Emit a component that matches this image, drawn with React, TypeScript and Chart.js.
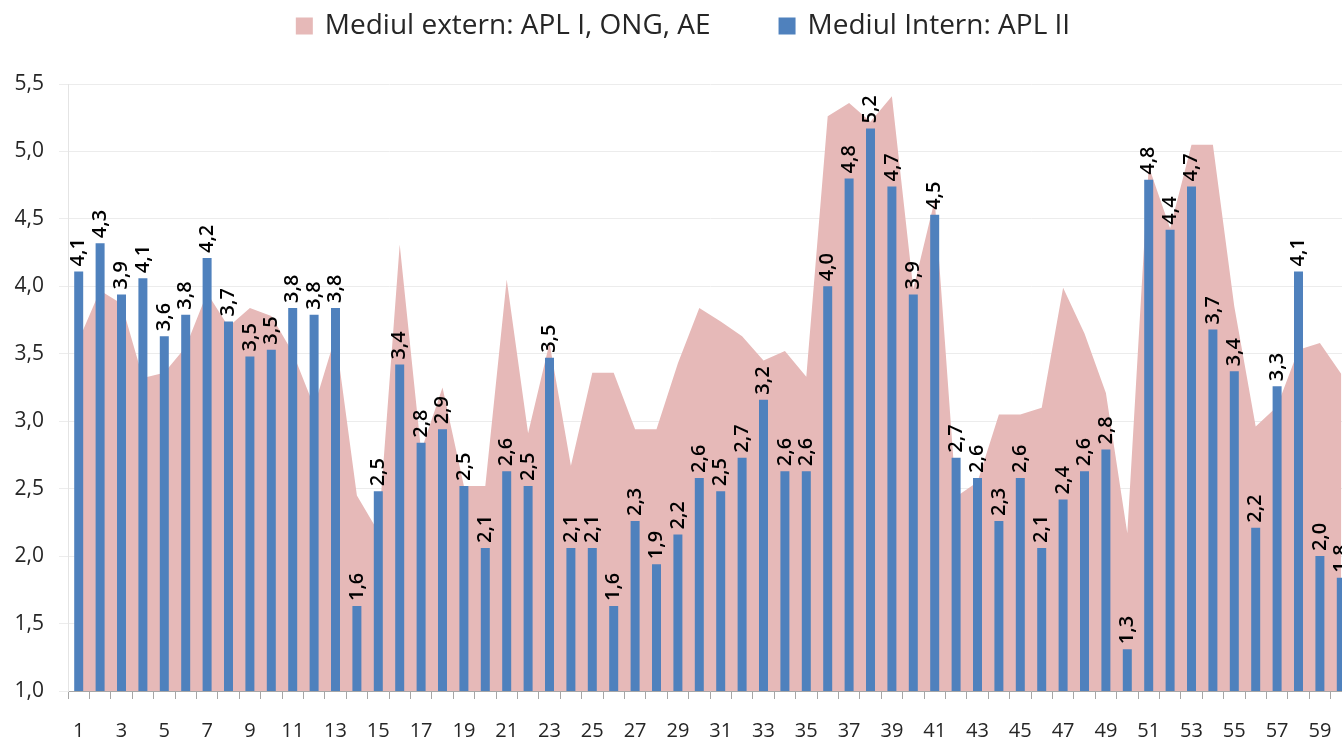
import React, { useEffect, useRef } from 'react';
import { Chart, registerables } from 'chart.js';

Chart.register(...registerables);

const categories = [
  '1', '2', '3', '4', '5', '6', '7', '8', '9', '10',
  '11', '12', '13', '14', '15', '16', '17', '18', '19', '20',
  '21', '22', '23', '24', '25', '26', '27', '28', '29', '30',
  '31', '32', '33', '34', '35', '36', '37', '38', '39', '40',
  '41', '42', '43', '44', '45', '46', '47', '48', '49', '50',
  '51', '52', '53', '54', '55', '56', '57', '58', '59', '60',
];

const externLabel = 'Mediul extern: APL I, ONG, AE';
const internLabel = 'Mediul Intern: APL II';

const externValues = [
  3.60, 3.97, 3.87, 3.32, 3.36, 3.55, 3.95, 3.70, 3.84, 3.78,
  3.51, 3.11, 3.63, 2.45, 2.18, 4.31, 2.78, 3.25, 2.52, 2.52,
  4.05, 2.91, 3.58, 2.67, 3.36, 3.36, 2.94, 2.94, 3.43, 3.84,
  3.74, 3.63, 3.45, 3.52, 3.33, 5.26, 5.36, 5.22, 5.41, 3.98,
  4.64, 2.44, 2.55, 3.05, 3.05, 3.10, 3.99, 3.65, 3.21, 2.17,
  4.89, 4.43, 5.05, 5.05, 3.85, 2.96, 3.11, 3.53, 3.58, 3.35,
];

const internValues = [
  4.11, 4.32, 3.94, 4.06, 3.63, 3.79, 4.21, 3.74, 3.48, 3.53,
  3.84, 3.79, 3.84, 1.63, 2.48, 3.42, 2.84, 2.94, 2.52, 2.06,
  2.63, 2.52, 3.47, 2.06, 2.06, 1.63, 2.26, 1.94, 2.16, 2.58,
  2.48, 2.73, 3.16, 2.63, 2.63, 4.00, 4.80, 5.17, 4.74, 3.94,
  4.53, 2.73, 2.58, 2.26, 2.58, 2.06, 2.42, 2.63, 2.79, 1.31,
  4.79, 4.42, 4.74, 3.68, 3.37, 2.21, 3.26, 4.11, 2.00, 1.84,
];

const yMin = 1.0;
const yMax = 5.5;
const yStep = 0.5;

const EXTERN_COLOR = '#E6B9B8';
const INTERN_COLOR = '#4F81BD';
const FONT = "'Open Sans', sans-serif";

const fmt = (v: number) => v.toFixed(1).replace('.', ',');

const shadowPlugin = {
  id: 'areaShadow',
  beforeDatasetDraw(chart: any, args: any) {
    if (args.index === 0) {
      const ctx = chart.ctx;
      ctx.save();
      ctx.shadowColor = 'rgba(0,0,0,0.28)';
      ctx.shadowBlur = 4;
      ctx.shadowOffsetX = 2;
      ctx.shadowOffsetY = 1;
    }
  },
  afterDatasetDraw(chart: any, args: any) {
    if (args.index === 0) chart.ctx.restore();
  },
};

const barLabelPlugin = {
  id: 'barLabels',
  afterDatasetsDraw(chart: any) {
    const ctx = chart.ctx;
    const meta = chart.getDatasetMeta(1);
    const data = chart.data.datasets[1].data as number[];
    ctx.save();
    ctx.font = `600 20px ${FONT}`;
    ctx.fillStyle = '#000000';
    ctx.textAlign = 'left';
    ctx.textBaseline = 'middle';
    meta.data.forEach((el: any, i: number) => {
      ctx.save();
      ctx.translate(el.x, el.y - 5);
      ctx.rotate(-Math.PI / 2);
      ctx.fillText(fmt(data[i]), 0, 0);
      ctx.restore();
    });
    ctx.restore();
  },
};

const legendPlugin = {
  id: 'topLegend',
  afterDraw(chart: any) {
    const ctx = chart.ctx;
    const items = chart.data.datasets.map((d: any) => ({ text: d.label, color: d.legendColor }));
    ctx.save();
    ctx.font = `28px ${FONT}`;
    const box = 17;
    const gapText = 12;
    const gapItem = 68;
    const widths = items.map((it: any) => box + gapText + ctx.measureText(it.text).width);
    const total = widths.reduce((a: number, b: number) => a + b, 0) + gapItem * (items.length - 1);
    let x = chart.width / 2 - total / 2;
    const yc = 26;
    items.forEach((it: any, i: number) => {
      ctx.fillStyle = it.color;
      ctx.fillRect(x, yc - box / 2, box, box);
      ctx.fillStyle = '#262626';
      ctx.textAlign = 'left';
      ctx.textBaseline = 'middle';
      ctx.fillText(it.text, x + box + gapText, yc);
      x += widths[i] + gapItem;
    });
    ctx.restore();
  },
};

export default function App() {
  const canvasRef = useRef<HTMLCanvasElement | null>(null);

  useEffect(() => {
    if (!canvasRef.current) return;
    const chart = new Chart(canvasRef.current, {
      type: 'bar',
      data: {
        labels: categories,
        datasets: [
          {
            type: 'line',
            label: externLabel,
            data: externValues,
            backgroundColor: EXTERN_COLOR,
            borderColor: EXTERN_COLOR,
            borderWidth: 0,
            pointRadius: 0,
            fill: 'start',
            tension: 0,
            order: 2,
            legendColor: EXTERN_COLOR,
          } as any,
          {
            type: 'bar',
            label: internLabel,
            data: internValues,
            backgroundColor: INTERN_COLOR,
            borderWidth: 0,
            categoryPercentage: 1,
            barPercentage: 0.42,
            order: 1,
            legendColor: INTERN_COLOR,
          } as any,
        ],
      },
      options: {
        responsive: true,
        maintainAspectRatio: false,
        animation: false,
        layout: { padding: { top: 84, right: 14, left: 0, bottom: 0 } },
        plugins: {
          legend: { display: false },
          tooltip: { enabled: false },
        },
        scales: {
          x: {
            offset: true,
            grid: {
              offset: true,
              drawOnChartArea: false,
              drawTicks: true,
              tickLength: 8,
              color: '#a6a6a6',
            },
            border: { display: true, color: '#a6a6a6', width: 1 },
            ticks: {
              autoSkip: false,
              maxRotation: 0,
              minRotation: 0,
              padding: 20,
              color: '#262626',
              font: { family: FONT, size: 20 },
              callback: (_v: any, i: number) => (i % 2 === 0 ? categories[i] : ''),
            },
            afterFit: (s: any) => { s.height = 54; },
          },
          y: {
            min: yMin,
            max: yMax,
            grid: {
              color: '#ececec',
              tickLength: 9,
              drawTicks: true,
            },
            border: { display: true, color: '#e4e4e4' },
            ticks: {
              stepSize: yStep,
              padding: 15,
              color: '#262626',
              font: { family: FONT, size: 21 },
              callback: (v: any) => fmt(Number(v)),
            },
            afterFit: (s: any) => { s.width = 68; },
          },
        },
      },
      plugins: [shadowPlugin, barLabelPlugin, legendPlugin],
    });
    return () => chart.destroy();
  }, []);

  return (
    <div style={{ position: 'fixed', left: 0, top: 0, width: 1342, height: 745, overflow: 'hidden', background: '#ffffff' }}>
      <div style={{ position: 'relative', width: 1366, height: 745 }}>
        <canvas ref={canvasRef} />
      </div>
    </div>
  );
}
